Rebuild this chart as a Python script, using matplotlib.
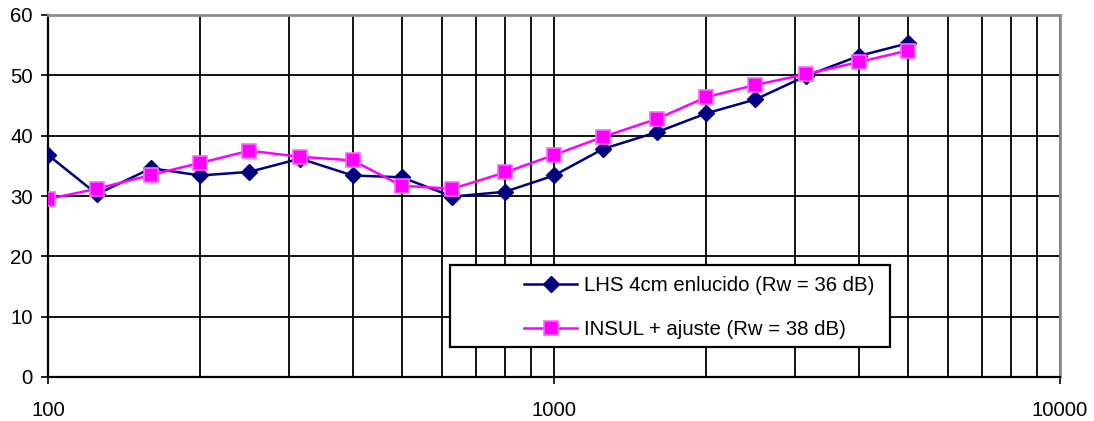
import matplotlib
matplotlib.use("Agg")
import matplotlib.pyplot as plt
from matplotlib.patches import Rectangle
from matplotlib.ticker import FixedLocator, FixedFormatter, NullFormatter

plt.rcParams["font.family"] = ["Liberation Sans", "DejaVu Sans"]

# 1/3 octave bands (Hz)
freqs = [100, 125, 160, 200, 250, 315, 400, 500, 630, 800,
         1000, 1250, 1600, 2000, 2500, 3150, 4000, 5000]
lhs = [36.8, 30.3, 34.6, 33.4, 34.0, 36.2, 33.4, 33.1, 29.9, 30.7,
       33.4, 37.8, 40.6, 43.7, 46.0, 49.9, 53.2, 55.3]
insul = [29.5, 31.2, 33.5, 35.5, 37.5, 36.5, 35.9, 31.7, 31.2, 33.9,
         36.8, 39.8, 42.8, 46.4, 48.4, 50.2, 52.2, 54.1]
lhs_label = "LHS 4cm enlucido (Rw = 36 dB)"
insul_label = "INSUL + ajuste (Rw = 38 dB)"
x_ticks = [100, 1000, 10000]
y_ticks = [0, 10, 20, 30, 40, 50, 60]

FS = 14.7

fig = plt.figure(figsize=(10.94, 4.21), dpi=100)
ax = fig.add_axes([48 / 1094, 1 - 377 / 421, (1060 - 48) / 1094, (377 - 15) / 421])

ax.set_xscale("log")
ax.set_xlim(100, 10000)
ax.set_ylim(0, 60)

minor = [m * d for d in (100, 1000) for m in range(2, 10)]
ax.xaxis.set_major_locator(FixedLocator(x_ticks))
ax.xaxis.set_major_formatter(FixedFormatter([str(v) for v in x_ticks]))
ax.xaxis.set_minor_locator(FixedLocator(minor))
ax.xaxis.set_minor_formatter(NullFormatter())
ax.set_yticks(y_ticks)

ax.grid(True, which="both", axis="x", color="black", lw=1.3)
ax.grid(True, which="major", axis="y", color="black", lw=1.3)
ax.set_axisbelow(True)

ax.tick_params(axis="both", which="major", labelsize=FS, direction="out",
               length=5, width=1.2, color="black")
ax.tick_params(axis="x", which="minor", length=0)
ax.tick_params(axis="x", pad=12)
ax.tick_params(axis="y", pad=6)

for s in ("left", "bottom"):
    ax.spines[s].set_color("black")
    ax.spines[s].set_linewidth(1.6)
for s in ("top", "right"):
    ax.spines[s].set_color("#8c8c8c")
    ax.spines[s].set_linewidth(2)

ax.plot(freqs, lhs, color="#000080", lw=1.8, marker="D", ms=8.5,
        mfc="#000080", mec="#000080", label=lhs_label, zorder=4)
ax.plot(freqs, insul, color="#ff00ff", lw=1.8, marker="s", ms=9.5,
        mfc="#ff00ff", mec="#ff66ff", mew=1.2, label=insul_label, zorder=4)

# legend box (Excel style)
box = Rectangle((450 / 1094, 1 - 347 / 421), 440 / 1094, 82 / 421,
                transform=fig.transFigure, facecolor="white",
                edgecolor="black", lw=1.6, zorder=6, clip_on=False)
ax.add_patch(box)
leg = ax.legend(loc="upper left", bbox_to_anchor=(506 / 1094, 1 - 258 / 421),
                bbox_transform=fig.transFigure, frameon=False, fontsize=FS,
                handlelength=2.6, handletextpad=0.3, labelspacing=1.2)
leg.set_zorder(7)

fig.savefig("out.png", dpi=100)
